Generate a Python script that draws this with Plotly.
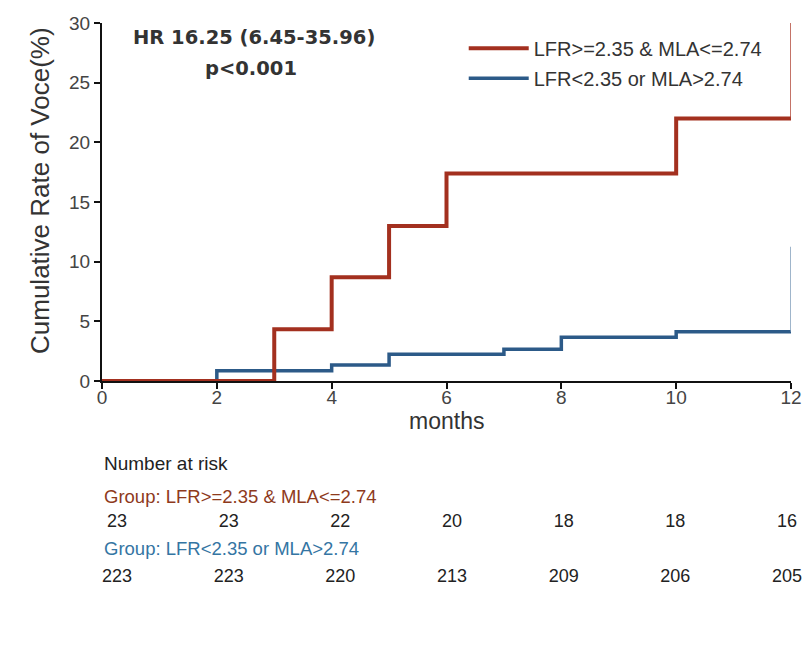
import plotly.graph_objects as go

# ---- data ----
months_ticks = [0, 2, 4, 6, 8, 10, 12]
red_name = "LFR>=2.35 & MLA<=2.74"
blue_name = "LFR<2.35 or MLA>2.74"
red_t = [0, 3, 4, 5, 6, 10, 12]
red_v = [0, 4.35, 8.7, 13.0, 17.4, 22.0, 22.0]
red_end = 30.0
blue_t = [0, 2, 4, 5, 7, 8, 10, 12]
blue_v = [0, 0.86, 1.34, 2.24, 2.66, 3.66, 4.13, 4.13]
blue_end = 11.26
risk_red = [23, 23, 22, 20, 18, 18, 16]
risk_blue = [223, 223, 220, 213, 209, 206, 205]

RED = "#a3301f"
BLUE = "#2c5a88"
FONT = "Liberation Sans, Arial, sans-serif"

fig = go.Figure()
fig.add_trace(go.Scatter(x=blue_t, y=blue_v, mode="lines", line=dict(shape="hv", color=BLUE, width=3.5),
                         name=blue_name, legendrank=2, legendgroup="b"))
fig.add_trace(go.Scatter(x=red_t, y=red_v, mode="lines", line=dict(shape="hv", color=RED, width=4),
                         name=red_name, legendrank=1, legendgroup="r"))
fig.add_trace(go.Scatter(x=[blue_t[-1], blue_t[-1]], y=[blue_v[-1], blue_end], mode="lines",
                         line=dict(color="#7f9cba", width=1.5), showlegend=False))
fig.add_trace(go.Scatter(x=[red_t[-1], red_t[-1]], y=[red_v[-1], red_end], mode="lines",
                         line=dict(color="#b04535", width=1.5), showlegend=False))

# number at risk table
fig.add_trace(go.Scatter(x=months_ticks, y=[1] * len(risk_red), mode="text",
                         text=[str(v) for v in risk_red], textfont=dict(size=18, color="#222", family=FONT),
                         xaxis="x2", yaxis="y2", showlegend=False, hoverinfo="skip", cliponaxis=False))
fig.add_trace(go.Scatter(x=months_ticks, y=[0] * len(risk_blue), mode="text",
                         text=[str(v) for v in risk_blue], textfont=dict(size=18, color="#222", family=FONT),
                         xaxis="x2", yaxis="y2", showlegend=False, hoverinfo="skip", cliponaxis=False))

fig.add_annotation(x=-0.2, y=2.09, xref="x2", yref="y2", xshift=-4, text="Number at risk", showarrow=False,
                   xanchor="left", font=dict(size=19, color="#222", family=FONT))
fig.add_annotation(x=-0.2, y=1.49, xref="x2", yref="y2", xshift=-4, text="Group: " + red_name, showarrow=False,
                   xanchor="left", font=dict(size=18.5, color="#8e3a1c", family=FONT))
fig.add_annotation(x=-0.2, y=0.53, xref="x2", yref="y2", xshift=-4, text="Group: " + blue_name, showarrow=False,
                   xanchor="left", font=dict(size=18.5, color="#3475a3", family=FONT))

fig.add_annotation(x=0.2206, y=0.976, xref="paper", yref="paper", xanchor="center", yanchor="middle",
                   text="<b>HR 16.25 (6.45-35.96)</b>", showarrow=False,
                   font=dict(size=19.5, color="#333", family="DejaVu Sans, sans-serif"))
fig.add_annotation(x=0.216, y=0.923, xref="paper", yref="paper", xanchor="center", yanchor="middle",
                   text="<b>p<0.001</b>", showarrow=False,
                   font=dict(size=19.5, color="#333", family="DejaVu Sans, sans-serif"))
fig.add_annotation(x=0.5, y=0.321, xref="paper", yref="paper", xanchor="center", yanchor="middle",
                   text="months", showarrow=False, font=dict(size=23, color="#333", family=FONT))
fig.add_annotation(x=-0.09, y=0.715, xref="paper", yref="paper", xanchor="center", yanchor="middle",
                   textangle=-90, text="Cumulative Rate of Voce(%)", showarrow=False,
                   font=dict(size=26, color="#333", family=FONT))

fig.update_layout(
    width=794, height=640,
    margin=dict(l=94, r=11, t=15, b=39),
    paper_bgcolor="white", plot_bgcolor="white",
    font=dict(family=FONT, color="#333"),
    showlegend=True,
    legend=dict(x=0.525, y=0.99, xanchor="left", yanchor="top", font=dict(size=20, color="#333", family=FONT),
                bgcolor="rgba(0,0,0,0)", itemwidth=60, tracegroupgap=1),
    xaxis=dict(domain=[0, 1], range=[0, 12], tickvals=months_ticks, showgrid=False, zeroline=False,
               showline=True, linecolor="#111", linewidth=2, ticks="outside", ticklen=6, tickwidth=1.5,
               tickcolor="#111", tickfont=dict(size=19, color="#444"), anchor="y", automargin=False,
               ticklabelstandoff=-8, layer="above traces"),
    yaxis=dict(domain=[0.389, 1], range=[0, 30], tickvals=[0, 5, 10, 15, 20, 25, 30], showgrid=False,
               zeroline=False, showline=True, linecolor="#111", linewidth=2, ticks="outside", ticklen=6,
               tickwidth=1.5, tickcolor="#111", tickfont=dict(size=19, color="#444"), anchor="x",
               automargin=False),
    xaxis2=dict(domain=[0, 1], range=[-0.269, 12.072], visible=False, anchor="y2", automargin=False),
    yaxis2=dict(domain=[0, 0.30], range=[-0.564, 2.633], visible=False, anchor="x2", automargin=False),
)

fig.write_html("out.html")
